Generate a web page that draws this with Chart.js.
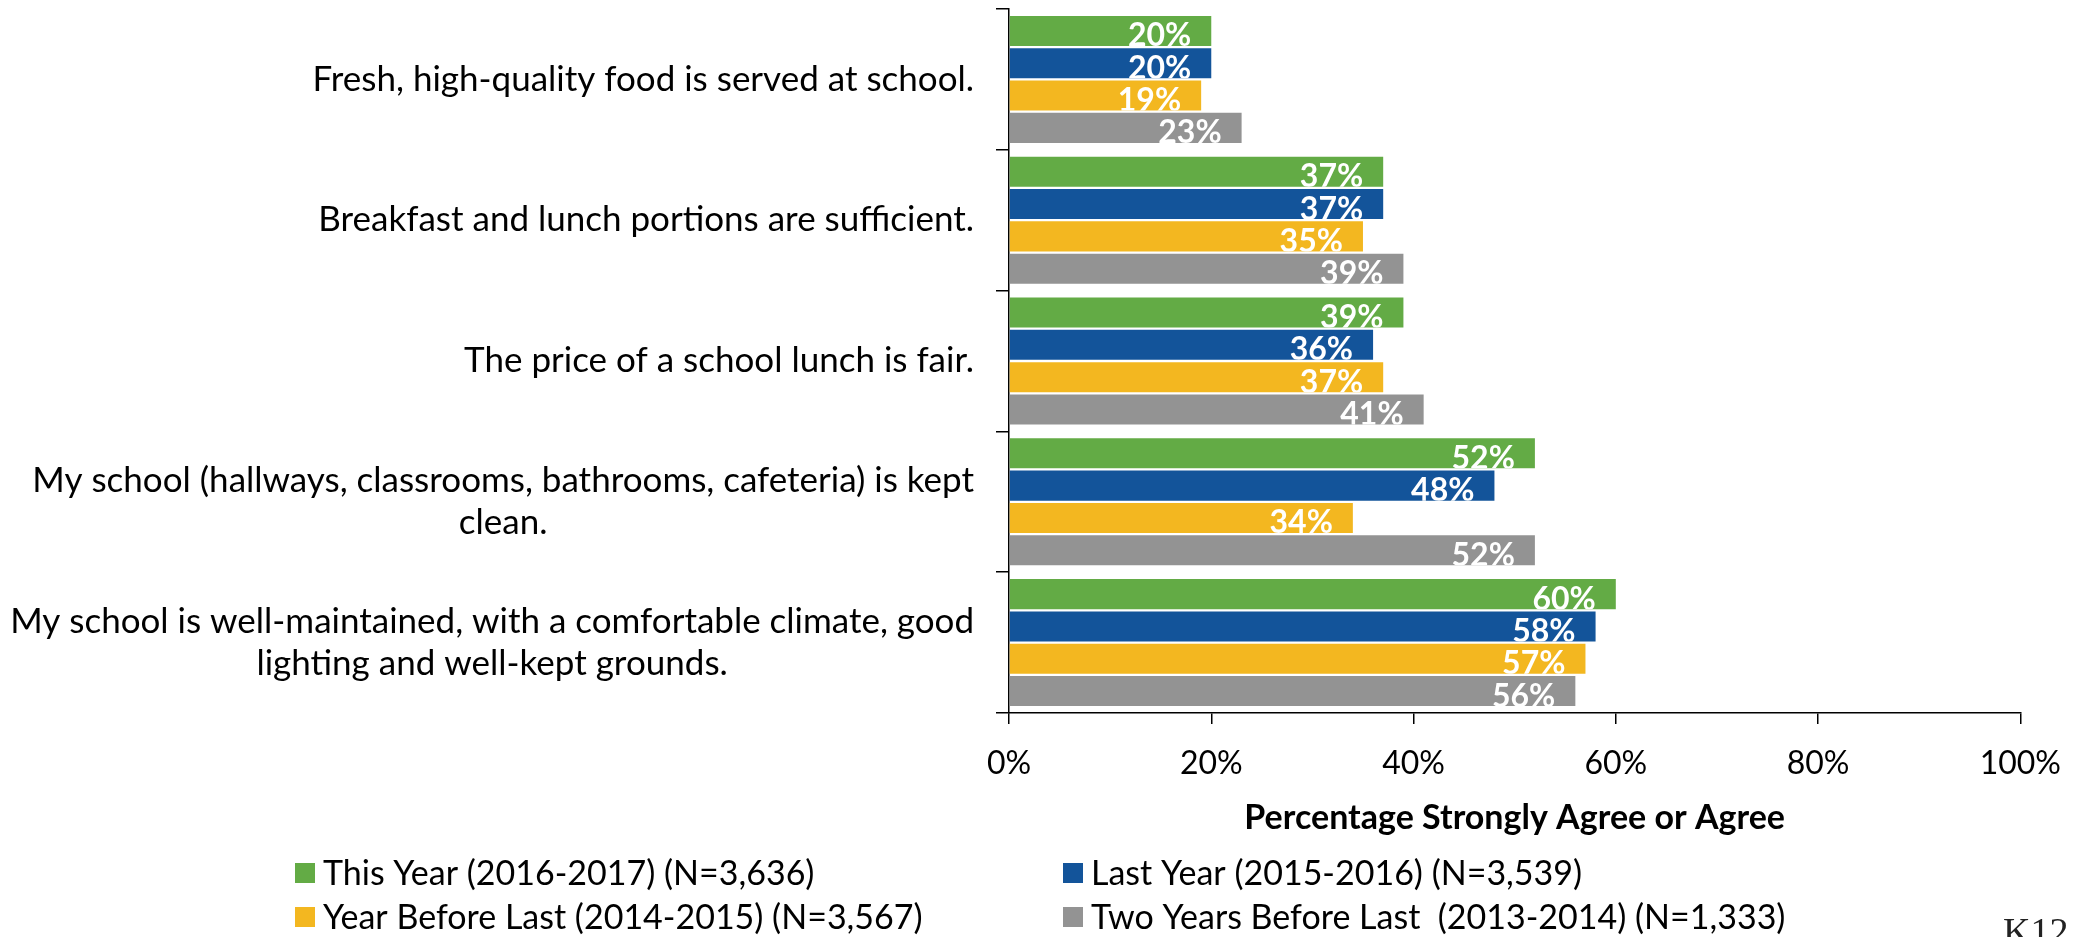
<!DOCTYPE html>
<html><head><meta charset="utf-8">
<script src="https://cdn.jsdelivr.net/npm/chart.js@4/dist/chart.umd.min.js"></script>
<style>html,body{margin:0;padding:0;background:#fff;overflow:hidden}
#wrap{position:relative;width:2081px;height:937px}
</style></head><body>
<div id="wrap"><canvas id="c" width="2081" height="937"></canvas></div>
<script>
const categories = [
  ["Fresh, high-quality food is served at school."],
  ["Breakfast and lunch portions are sufficient."],
  ["The price of a school lunch is fair."],
  ["My school (hallways, classrooms, bathrooms, cafeteria) is kept", "clean."],
  ["My school is well-maintained, with a comfortable climate, good", "lighting and well-kept grounds."]
];
const seriesNames = [
  "This Year (2016-2017) (N=3,636)",
  "Last Year (2015-2016) (N=3,539)",
  "Year Before Last (2014-2015) (N=3,567)",
  "Two Years Before Last  (2013-2014) (N=1,333)"
];
const thisYear = [20, 37, 39, 52, 60];
const lastYear = [20, 37, 36, 48, 58];
const yearBeforeLast = [19, 35, 37, 34, 57];
const twoYearsBeforeLast = [23, 39, 41, 52, 56];
const xTicks = [0, 20, 40, 60, 80, 100];
const axisTitle = "Percentage Strongly Agree or Agree";
const footerText = "K12";
const colors = ['#63AB45', '#13549A', '#F3B720', '#939393'];

const FONT = 'Lato, "Open Sans", sans-serif';

const custom = {
  id: 'custom',
  afterDatasetsDraw(chart) {
    const ctx = chart.ctx;
    ctx.save();
    ctx.font = 'bold 32px ' + FONT;
    ctx.fillStyle = '#fff';
    ctx.textAlign = 'right';
    ctx.textBaseline = 'alphabetic';
    chart.data.datasets.forEach((ds, di) => {
      const meta = chart.getDatasetMeta(di);
      meta.data.forEach((bar, i) => {
        const h = bar.height, top = bar.y - h / 2, bottom = bar.y + h / 2;
        ctx.save();
        ctx.beginPath();
        ctx.rect(bar.base, top, bar.x - bar.base, h);
        ctx.clip();
        ctx.fillText(ds.data[i] + '%', bar.x - 20, bottom + 0.5);
        ctx.restore();
      });
    });
    ctx.restore();
  },
  afterDraw(chart) {
    const ctx = chart.ctx, ca = chart.chartArea, ys = chart.scales.y;
    ctx.save();
    // category labels
    ctx.font = '35px ' + FONT;
    ctx.fillStyle = '#000';
    ctx.textBaseline = 'middle';
    ctx.textAlign = 'center';
    const rightEdge = ca.left - 35, lh = 42;
    categories.forEach((lines, i) => {
      const cy = ys.getPixelForValue(i);
      const w = Math.max(...lines.map(l => ctx.measureText(l).width));
      const cx = rightEdge - w / 2;
      const y0 = cy - (lines.length - 1) * lh / 2;
      lines.forEach((l, k) => ctx.fillText(l, cx, y0 + k * lh));
    });
    // axis title
    ctx.font = 'bold 34px ' + FONT;
    ctx.fillText(axisTitle, (ca.left + ca.right) / 2, 818);
    // legend
    ctx.font = '34px ' + FONT;
    ctx.textAlign = 'left';
    const colX = [295, 1063], rowY = [873, 917];
    seriesNames.forEach((n, i) => {
      const x = colX[i % 2], y = rowY[Math.floor(i / 2)];
      ctx.fillStyle = colors[i];
      ctx.fillRect(x, y - 10, 20, 20);
      ctx.fillStyle = '#000';
      ctx.fillText(n, x + 28, y + 1);
    });
    // footer
    ctx.font = '38px "Liberation Serif", serif';
    ctx.textBaseline = 'alphabetic';
    ctx.fillStyle = '#222';
    ctx.fillText(footerText, 2003, 944);
    ctx.restore();
  }
};

new Chart(document.getElementById('c'), {
  type: 'bar',
  data: {
    labels: categories,
    datasets: [thisYear, lastYear, yearBeforeLast, twoYearsBeforeLast].map((d, i) => ({
      label: seriesNames[i],
      data: d,
      backgroundColor: colors[i],
      borderWidth: 0,
      barPercentage: 0.93,
      categoryPercentage: 0.918
    }))
  },
  options: {
    indexAxis: 'y',
    responsive: false,
    animation: false,
    layout: { padding: { top: 9, right: 60, left: 0, bottom: 0 } },
    plugins: { legend: { display: false }, tooltip: { enabled: false } },
    scales: {
      x: {
        min: 0, max: 100,
        afterBuildTicks(scale) { scale.ticks = xTicks.map(v => ({ value: v })); },
        afterFit(scale) { scale.height = 224; },
        ticks: { callback: v => v + '%', color: '#000', font: { family: FONT, size: 32 }, padding: 20 },
        grid: { drawOnChartArea: false, drawTicks: true, tickLength: 11, color: '#000', lineWidth: 1.5 },
        border: { display: true, color: '#000', width: 1.5 }
      },
      y: {
        afterFit(scale) { scale.width = 1009; },
        ticks: { display: false },
        grid: { drawOnChartArea: false, drawTicks: true, tickLength: 13, color: '#000', lineWidth: 1.5, offset: true },
        border: { display: true, color: '#000', width: 1.5 }
      }
    }
  },
  plugins: [custom]
});
</script>
</body></html>
